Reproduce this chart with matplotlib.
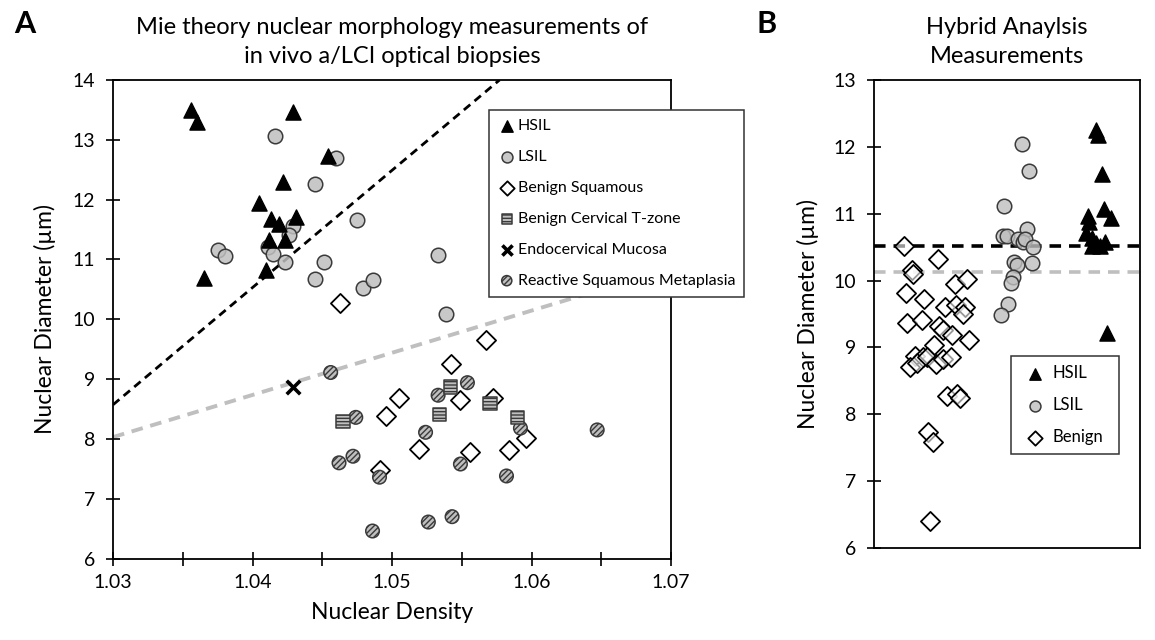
import matplotlib.pyplot as plt

plt.rcParams['font.family'] = ['Lato', 'DejaVu Sans']
plt.rcParams['hatch.color'] = '#303030'
plt.rcParams['hatch.linewidth'] = 1.0

# ---- Panel A data: (nuclear density, nuclear diameter um) ----
hsil_dens = [1.0356, 1.0360, 1.0429, 1.0454, 1.0422, 1.0405, 1.0413, 1.0419,
             1.0431, 1.0412, 1.0423, 1.0410, 1.0365]
hsil_diam = [13.50, 13.29, 13.46, 12.73, 12.30, 11.94, 11.67, 11.60,
             11.71, 11.32, 11.32, 10.82, 10.69]

lsil_dens = [1.0416, 1.0460, 1.0445, 1.0475, 1.0429, 1.0426, 1.0375, 1.0380,
             1.0411, 1.0415, 1.0423, 1.0451, 1.0445, 1.0479, 1.0486, 1.0539,
             1.0533]
lsil_diam = [13.06, 12.69, 12.26, 11.66, 11.56, 11.41, 11.15, 11.05,
             11.20, 11.09, 10.95, 10.96, 10.67, 10.52, 10.66, 10.08,
             11.08]

benign_dens = [1.0463, 1.0567, 1.0542, 1.0505, 1.0549, 1.0572, 1.0496, 1.0596,
               1.0519, 1.0556, 1.0584, 1.0491]
benign_diam = [10.28, 9.65, 9.26, 8.68, 8.65, 8.68, 8.38, 8.01,
               7.83, 7.78, 7.81, 7.48]

tzone_dens = [1.0465, 1.0542, 1.0534, 1.0570, 1.0590]
tzone_diam = [8.29, 8.87, 8.41, 8.59, 8.36]

endo_dens = [1.0429]
endo_diam = [8.86]

rsm_dens = [1.0456, 1.0554, 1.0533, 1.0474, 1.0524, 1.0592, 1.0647, 1.0462,
            1.0472, 1.0549, 1.0582, 1.0491, 1.0526, 1.0543, 1.0486]
rsm_diam = [9.11, 8.94, 8.73, 8.36, 8.11, 8.18, 8.15, 7.60,
            7.71, 7.58, 7.38, 7.36, 6.61, 6.70, 6.46]

# decision boundaries
black_line_x = [1.03, 1.0577]
black_line_y = [8.57, 14.0]
gray_line_x = [1.03, 1.07]
gray_line_y = [8.03, 10.85]

# ---- Panel B data: (jitter position, nuclear diameter um) ----
b_benign_x = [0.113, 0.242, 0.142, 0.148, 0.305, 0.348, 0.120, 0.188, 0.267,
              0.308, 0.342, 0.333, 0.123, 0.179, 0.245, 0.258, 0.292, 0.357,
              0.226, 0.154, 0.185, 0.135, 0.163, 0.200, 0.233, 0.261, 0.288,
              0.273, 0.313, 0.323, 0.204, 0.221, 0.211]
b_benign_y = [10.52, 10.32, 10.16, 10.10, 9.95, 10.02, 9.82, 9.72, 9.60,
              9.64, 9.60, 9.50, 9.37, 9.41, 9.32, 9.26, 9.19, 9.11,
              9.04, 8.87, 8.85, 8.71, 8.77, 8.86, 8.75, 8.82, 8.85,
              8.27, 8.31, 8.24, 7.74, 7.58, 6.40]

b_lsil_x = [0.555, 0.584, 0.490, 0.484, 0.499, 0.574, 0.542, 0.561, 0.568,
            0.599, 0.526, 0.536, 0.593, 0.521, 0.514, 0.505, 0.476]
b_lsil_y = [12.05, 11.64, 11.11, 10.67, 10.66, 10.77, 10.62, 10.57, 10.62,
            10.50, 10.28, 10.23, 10.26, 10.06, 9.97, 9.65, 9.49]

b_hsil_x = [0.835, 0.843, 0.858, 0.806, 0.865, 0.890, 0.809, 0.797, 0.818,
            0.835, 0.850, 0.868, 0.818, 0.877]
b_hsil_y = [12.25, 12.18, 11.59, 10.96, 11.07, 10.93, 10.88, 10.71, 10.63,
            10.56, 10.52, 10.57, 10.52, 9.21]

b_black_level = 10.52
b_gray_level = 10.13

fig = plt.figure(figsize=(11.55, 6.4), dpi=100)
axA = fig.add_axes([0.0978, 0.1273, 0.4833, 0.7477])
axB = fig.add_axes([0.7567, 0.1438, 0.2303, 0.7312])

GRAY = '#bfbfbf'
EDGE = '#3a3a3a'
ms = 95

# panel A
axA.plot(black_line_x, black_line_y, color='black', lw=2.0, dashes=(3.0, 2.0), zorder=1)
axA.plot(gray_line_x, gray_line_y, color=GRAY, lw=2.8, dashes=(3.0, 2.0), zorder=1)

rsm = axA.scatter(rsm_dens, rsm_diam, s=ms, marker='o', facecolor=GRAY, edgecolor=EDGE,
                  hatch='//////', linewidth=1.1, zorder=3, label='Reactive Squamous Metaplasia')
tz = axA.scatter(tzone_dens, tzone_diam, s=ms, marker='s', facecolor=GRAY, edgecolor=EDGE,
                 hatch='-----', linewidth=1.1, zorder=3, label='Benign Cervical T-zone')
ben = axA.scatter(benign_dens, benign_diam, s=ms, marker='D', facecolor='white',
                  edgecolor='black', linewidth=1.3, zorder=2, label='Benign Squamous')
endo = axA.scatter(endo_dens, endo_diam, s=ms, marker='x', color='black', linewidth=2.6,
                   zorder=3, label='Endocervical Mucosa')
lsil = axA.scatter(lsil_dens, lsil_diam, s=ms * 1.15, marker='o',
                   facecolor=(0.75, 0.75, 0.75, 0.85), edgecolor=EDGE, linewidth=1.1,
                   zorder=3, label='LSIL')
hsil = axA.scatter(hsil_dens, hsil_diam, s=ms * 1.25, marker='^', color='black', zorder=4,
                   label='HSIL')

axA.set_xlim(1.03, 1.07)
axA.set_ylim(6, 14)
axA.set_xticks([1.03, 1.04, 1.05, 1.06, 1.07])
axA.set_xticklabels(['1.03', '1.04', '1.05', '1.06', '1.07'])
axA.set_xticks([1.035, 1.045, 1.055, 1.065], minor=True)
axA.set_yticks(range(6, 15))
axA.tick_params(which='both', direction='inout', length=10, width=1.2, labelsize=14, pad=6)
axA.tick_params(axis='y', pad=8)
for sp in axA.spines.values():
    sp.set_linewidth(1.3)
axA.set_xlabel('Nuclear Density', fontsize=16.5, labelpad=8)
axA.set_ylabel('Nuclear Diameter (\u00b5m)', fontsize=16.5, labelpad=12)
axA.set_title('Mie theory nuclear morphology measurements of\nin vivo a/LCI optical biopsies',
              fontsize=17, pad=12, linespacing=1.5)

legA = axA.legend([hsil, lsil, ben, tz, endo, rsm],
                  ['HSIL', 'LSIL', 'Benign Squamous', 'Benign Cervical T-zone',
                   'Endocervical Mucosa', 'Reactive Squamous Metaplasia'],
                  loc='upper left', bbox_to_anchor=(0.674, 0.4, 0.457, 0.537), mode='expand',
                  fontsize=11.5, frameon=True, fancybox=False, edgecolor='#333333',
                  framealpha=1, handletextpad=0.15, handlelength=1.1, labelspacing=1.05,
                  borderpad=0.55, borderaxespad=0, scatterpoints=1, markerscale=0.75)
legA.get_frame().set_linewidth(1.1)
legA.set_zorder(10)

# panel B
axB.axhline(b_black_level, color='black', lw=2.6, dashes=(3.2, 2.2), zorder=1)
axB.axhline(b_gray_level, color=GRAY, lw=2.6, dashes=(3.2, 2.2), zorder=1)
bben = axB.scatter(b_benign_x, b_benign_y, s=ms, marker='D', facecolor=(1, 1, 1, 0.6),
                   edgecolor='black', linewidth=1.3, zorder=2, label='Benign')
blsil = axB.scatter(b_lsil_x, b_lsil_y, s=ms * 1.15, marker='o',
                    facecolor=(0.75, 0.75, 0.75, 0.8), edgecolor=EDGE, linewidth=1.1,
                    zorder=3, label='LSIL')
bhsil = axB.scatter(b_hsil_x, b_hsil_y, s=ms * 1.25, marker='^', color='black', zorder=4,
                    label='HSIL')
axB.set_xlim(0, 1)
axB.set_ylim(6, 13)
axB.set_xticks([])
axB.set_yticks(range(6, 14))
axB.tick_params(direction='inout', length=10, width=1.2, labelsize=14, pad=8)
for sp in axB.spines.values():
    sp.set_linewidth(1.3)
axB.set_ylabel('Nuclear Diameter (\u00b5m)', fontsize=16.5, labelpad=10)
axB.set_title('Hybrid Anaylsis\nMeasurements', fontsize=17, pad=12, linespacing=1.5)

legB = axB.legend([bhsil, blsil, bben], ['HSIL', 'LSIL', 'Benign'], loc='upper left',
                  bbox_to_anchor=(0.515, 0.1, 0.406, 0.31), mode='expand',
                  fontsize=12, frameon=True, fancybox=False, edgecolor='#333333',
                  framealpha=1, handletextpad=0.15, handlelength=1.8, labelspacing=0.95,
                  borderpad=0.55, borderaxespad=0, scatterpoints=1, markerscale=0.75)
legB.get_frame().set_linewidth(1.1)

fig.text(0.012, 0.962, 'A', fontsize=22, fontweight='bold', va='center')
fig.text(0.655, 0.962, 'B', fontsize=22, fontweight='bold', va='center')

fig.savefig('out.png', dpi=100)
